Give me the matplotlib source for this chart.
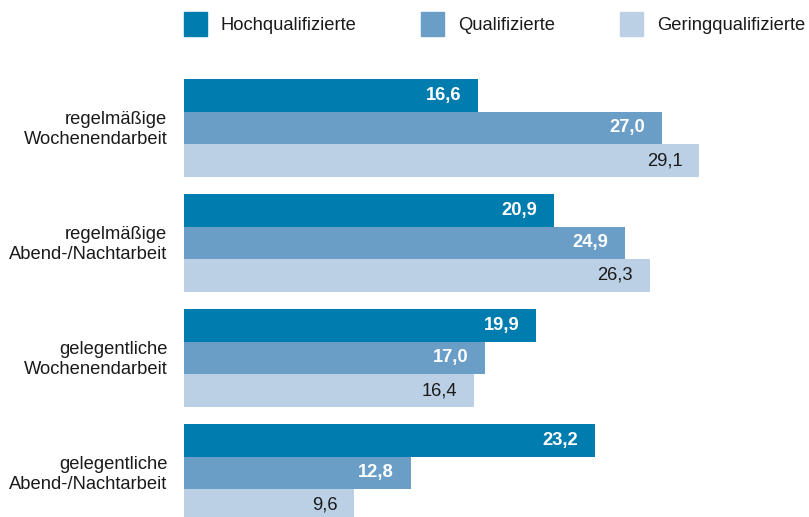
import numpy as np
import matplotlib.pyplot as plt
from matplotlib.patches import Rectangle

plt.rcParams['font.family'] = ['Liberation Sans', 'DejaVu Sans']

# Daten
kategorien = ['regelmäßige\nWochenendarbeit', 'regelmäßige\nAbend-/Nachtarbeit',
              'gelegentliche\nWochenendarbeit', 'gelegentliche\nAbend-/Nachtarbeit']
gruppen = ['Hochqualifizierte', 'Qualifizierte', 'Geringqualifizierte']
hoch = [16.6, 20.9, 19.9, 23.2]
qual = [27.0, 24.9, 17.0, 12.8]
gering = [29.1, 26.3, 16.4, 9.6]

farben = ['#007DAE', '#6A9EC7', '#BBD0E5']
textfarben = ['white', 'white', '#1a1a1a']
gewichte = ['bold', 'bold', 'normal']

fig = plt.figure(figsize=(8.09, 5.17), dpi=100)
W, H = 809, 517
links, oben = 184, 79
ax = fig.add_axes([links / W, 0, 1 - links / W, (H - oben) / H])

abstand = 115 / 32.6
werte = [hoch, qual, gering]
for j, serie in enumerate(werte):
    y = np.arange(len(kategorien)) * abstand + j + 0.5
    ax.barh(y, serie, height=1.0, color=farben[j])
    for yi, v in zip(y, serie):
        ax.annotate(f'{v:.1f}'.replace('.', ','), (v, yi), xytext=(-12, 0),
                    textcoords='offset points', ha='right', va='center',
                    color=textfarben[j], fontweight=gewichte[j], fontsize=13.2)

ax.set_xlim(0, (W - links) / 17.7)
ax.set_ylim((H - oben) / 32.6, 0)
ax.set_yticks(np.arange(len(kategorien)) * abstand + 1.45)
ax.set_yticklabels(kategorien, fontsize=13.2, color='#1a1a1a')
ax.tick_params(axis='y', length=0, pad=12)
ax.set_xticks([])
for s in ax.spines.values():
    s.set_visible(False)

# Legende
lx = [184, 421, 620]
for x, name, c in zip(lx, gruppen, farben):
    fig.patches.append(Rectangle((x / W, 1 - 36 / H), 23 / W, 24 / H,
                                 transform=fig.transFigure, color=c))
    fig.text((x + 37) / W, 1 - 25 / H, name, fontsize=13.2, va='center',
             color='#1a1a1a')

fig.savefig('out.png', dpi=100)
